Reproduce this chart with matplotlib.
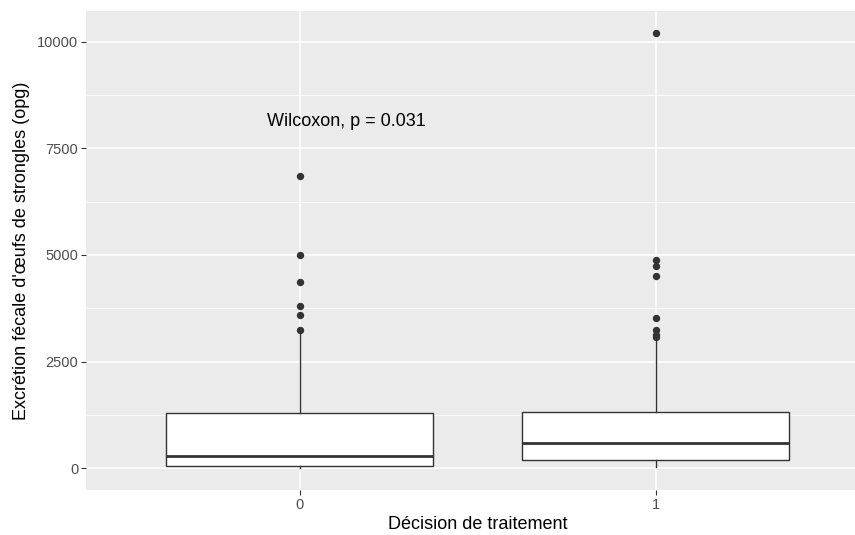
import numpy as np
import matplotlib
matplotlib.use("Agg")
import matplotlib.pyplot as plt

plt.rcParams['font.family'] = ['Liberation Sans', 'DejaVu Sans']

# box statistics (opg)
categories = ["0", "1"]
q1 = [54, 202]
median = [282, 601]
q3 = [1291, 1322]
whisker_lo = [0, 23]
whisker_hi = [3150, 2972]
outliers = [
    [6845, 5007, 4366, 3810, 3599, 3247],
    [10210, 4873, 4749, 4514, 3512, 3247, 3130, 3066],
]
y_ticks = [0, 2500, 5000, 7500, 10000]
y_minor = [1250, 3750, 6250, 8750]
label_text = "Wilcoxon, p = 0.031"

stats = []
for i in range(len(categories)):
    stats.append(dict(med=median[i], q1=q1[i], q3=q3[i],
                      whislo=whisker_lo[i], whishi=whisker_hi[i],
                      fliers=outliers[i], label=categories[i]))

fig = plt.figure(figsize=(8.55, 5.35), dpi=100)
ax = fig.add_axes([0.1006, 0.0841, 0.916, 0.8957])
ax.set_facecolor('#EBEBEB')

# ggplot-like grid
ax.set_yticks(y_ticks)
ax.set_yticks(y_minor, minor=True)
ax.grid(which='major', color='white', linewidth=1.1)
ax.grid(which='minor', axis='y', color='white', linewidth=0.55)
ax.set_axisbelow(True)

edge = '#333333'
ax.bxp(stats, positions=[0, 1], widths=0.75, patch_artist=True, showcaps=False,
       boxprops=dict(facecolor='white', edgecolor=edge, linewidth=1.0),
       medianprops=dict(color=edge, linewidth=2.0),
       whiskerprops=dict(color=edge, linewidth=1.0),
       flierprops=dict(marker='o', markerfacecolor=edge, markeredgecolor=edge,
                       markersize=4.3, linestyle='none'),
       zorder=3)

ymax = max(max(o) for o in outliers)
ax.set_ylim(-0.05 * ymax, ymax * 1.05)
ax.set_xlim(-0.6, 1.6)
ax.set_xticks([0, 1])
ax.set_xticklabels(categories)

for s in ax.spines.values():
    s.set_visible(False)
ax.tick_params(axis='both', which='major', length=3.5, width=0.8, color='#333333',
               labelsize=10.5, labelcolor='#4D4D4D', pad=2)
ax.tick_params(axis='both', which='minor', length=0)

ax.set_xlabel("Décision de traitement", fontsize=13, color='black', labelpad=3)
ax.set_ylabel("Excrétion fécale d'œufs de strongles (opg)", fontsize=13,
              color='black', labelpad=5)

ax.text(0.13, 8136, label_text, ha='center', va='center', fontsize=13,
        color='black')

fig.savefig("out.png", dpi=100)
